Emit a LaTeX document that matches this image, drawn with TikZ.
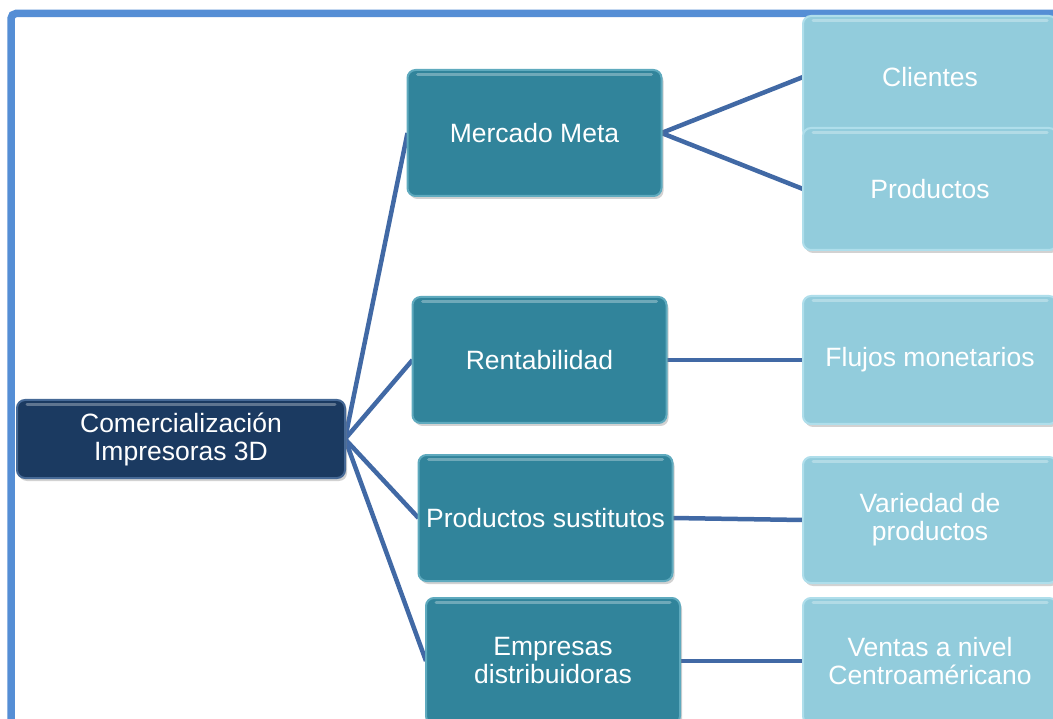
\documentclass[tikz,border=0pt]{standalone}
\usepackage{fontspec}
\setmainfont{Liberation Sans}
\usetikzlibrary{shadows}
\definecolor{framecol}{RGB}{85,142,213}
\definecolor{rootfill}{RGB}{27,58,97}
\definecolor{rootedge}{RGB}{70,105,150}
\definecolor{midfill}{RGB}{49,132,155}
\definecolor{midedge}{RGB}{95,170,190}
\definecolor{leaffill}{RGB}{146,204,220}
\definecolor{leafedge}{RGB}{175,222,235}
\definecolor{linkcol}{RGB}{65,105,165}
\tikzset{
  boxbase/.style={rectangle, rounded corners=8pt, line width=2pt,
    text=white, align=center, inner sep=0pt,
    font=\fontsize{26.5}{28}\selectfont,
    drop shadow={shadow xshift=2pt, shadow yshift=-3pt, opacity=0.35},
    path picture={
      \draw[white, opacity=0.3, line width=3pt, line cap=round]
        ([xshift=10pt, yshift=-4.5pt]path picture bounding box.north west) --
        ([xshift=-10pt, yshift=-4.5pt]path picture bounding box.north east);
    }},
  rootbox/.style={boxbase, fill=rootfill, draw=rootedge,
    minimum width=328pt, minimum height=78pt},
  midbox/.style={boxbase, fill=midfill, draw=midedge,
    minimum width=254pt, minimum height=126pt},
  leafbox/.style={boxbase, fill=leaffill, draw=leafedge,
    minimum width=254pt, minimum height=126pt},
  link/.style={draw=linkcol, line width=4.5pt},
  framestroke/.style={draw=framecol, line width=7.5pt, rounded corners=5pt}
}
\begin{document}
\begin{tikzpicture}[x=1pt, y=-1pt]
  \useasboundingbox (0,0) rectangle (1053,719);
  \clip (0,0) rectangle (1053,719);
  \fill[white] (0,0) rectangle (1053,719);

  % outer frame (top and left edges)
  \draw[framestroke] (11,740) -- (11,13.5) -- (1080,13.5);

  % connectors first, boxes on top
  \coordinate (rootE) at (345,439);
  \coordinate (mercW) at (407.5,133);
  \coordinate (rentW) at (412.5,360);
  \coordinate (sustW) at (418.5,518);
  \coordinate (emprW) at (426,661);
  \coordinate (mercE) at (661.5,133);
  \coordinate (rentE) at (666.5,360);
  \coordinate (sustE) at (672.5,518);
  \coordinate (emprE) at (680,661);
  \coordinate (clieW) at (803,77);
  \coordinate (prodW) at (803,189);
  \coordinate (flujW) at (803,360);
  \coordinate (variW) at (803,520);
  \coordinate (ventW) at (803,661);

  \draw[link] (rootE) -- (mercW);
  \draw[link] (rootE) -- (rentW);
  \draw[link] (rootE) -- (sustW);
  \draw[link] (rootE) -- (emprW);
  \draw[link] (mercE) -- (clieW);
  \draw[link] (mercE) -- (prodW);
  \draw[link] (rentE) -- (flujW);
  \draw[link] (sustE) -- (variW);
  \draw[link] (emprE) -- (ventW);

  % root
  \node[rootbox] (root) at (181,439) {Comercialización\\Impresoras 3D};

  % second level
  \node[midbox] (merc) at (534.5,133) {Mercado Meta};
  \node[midbox] (rent) at (539.5,360) {Rentabilidad};
  \node[midbox] (sust) at (545.5,518) {Productos sustitutos};
  \node[midbox] (empr) at (553,661) {Empresas\\distribuidoras};

  % third level
  \node[leafbox, minimum height=122pt] (clie) at (930,77) {Clientes};
  \node[leafbox, minimum height=122pt] (prod) at (930,189) {Productos};
  \node[leafbox, minimum height=128pt] (fluj) at (930,360) {Flujos monetarios};
  \node[leafbox] (vari) at (930,520) {Variedad de\\productos};
  \node[leafbox] (vent) at (930,661) {Ventas a nivel\\Centroaméricano};
\end{tikzpicture}
\end{document}
